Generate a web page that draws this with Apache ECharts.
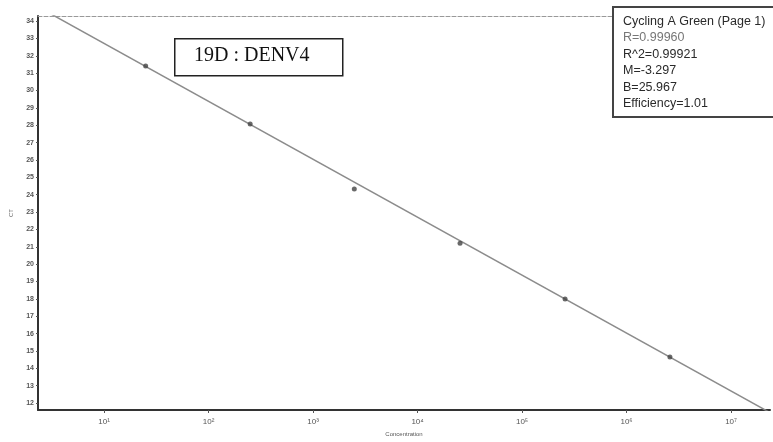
<!DOCTYPE html>
<html lang="en">
<head>
    <meta charset="UTF-8">
    <script src="https://cdn.jsdelivr.net/npm/echarts@6.0.0/dist/echarts.min.js"></script>
    <title>19D : DENV4</title>
    <style>
        html, body { margin: 0; padding: 0; background: #fff; }
    </style>
</head>
<body>
<div id="main" style="width: 773px;height:442px;"></div>
<script type="text/javascript">
    // standards (concentration, Ct)
    var conc = [25, 250, 2480, 25500, 258000, 2600000];
    var ct = [31.41, 28.07, 24.32, 21.21, 17.99, 14.65];

    // fitted line, ends at the plot edges
    var fitConc = [2.33, 23600000];
    var fitCt = [34.82, 11.45];

    var ctTicks = [12, 13, 14, 15, 16, 17, 18, 19, 20, 21, 22, 23, 24, 25, 26, 27, 28, 29, 30, 31, 32, 33, 34];
    var supers = ['⁰', '¹', '²', '³', '⁴', '⁵', '⁶', '⁷', '⁸'];

    var statLines = ['Cycling A Green (Page 1)', 'R=0.99960', 'R^2=0.99921', 'M=-3.297', 'B=25.967', 'Efficiency=1.01'];

    var pts = [], fit = [];
    for (var i = 0; i < conc.length; i++) pts.push([conc[i], ct[i]]);
    for (var j = 0; j < fitConc.length; j++) fit.push([fitConc[j], fitCt[j]]);

    var statTexts = [];
    for (var k = 0; k < statLines.length; k++) {
        statTexts.push({
            type: 'text',
            left: 623,
            top: 15 + k * 16.4,
            z: 101,
            style: {
                text: statLines[k],
                fill: k == 1 ? '#777' : '#2a2a2a',
                font: '12.5px "Liberation Sans", Arial, sans-serif'
            }
        });
    }

    var myChart = echarts.init(document.getElementById('main'));

    var option = {
        animation: false,
        backgroundColor: '#fff',
        grid: {
            left: 38,
            right: 3,
            top: 16,
            bottom: 32
        },
        xAxis: [
            {
                type: 'log',
                logBase: 10,
                min: 2.33,
                max: 23600000,
                splitNumber: 7,
                name: 'Concentration',
                nameLocation: 'middle',
                nameGap: 20,
                nameTextStyle: { fontSize: 6, color: '#555' },
                axisLine: { lineStyle: { color: '#333', width: 2 } },
                axisTick: { length: 3, lineStyle: { color: '#555' } },
                splitLine: { show: false },
                axisLabel: {
                    showMinLabel: false,
                    showMaxLabel: false,
                    fontSize: 8,
                    color: '#555',
                    margin: 8,
                    formatter: function (v) {
                        var e = Math.round(Math.log10(v));
                        return '10' + supers[e];
                    }
                }
            },
            {
                type: 'value',
                position: 'top',
                axisLine: { show: true, lineStyle: { color: '#999', type: 'dashed', width: 1 } },
                axisTick: { show: false },
                axisLabel: { show: false },
                splitLine: { show: false }
            }
        ],
        yAxis: {
            type: 'value',
            min: 11.6,
            max: 34.29,
            name: 'CT',
            nameLocation: 'middle',
            nameGap: 24,
            nameTextStyle: { fontSize: 6, color: '#666' },
            axisLine: { show: true, lineStyle: { color: '#333', width: 2 } },
            axisTick: { show: true, length: 2, customValues: ctTicks, lineStyle: { color: '#555' } },
            splitLine: { show: false },
            axisLabel: {
                customValues: ctTicks,
                fontSize: 7,
                fontWeight: 'bold',
                color: '#555',
                margin: 4
            }
        },
        graphic: [
            {
                type: 'rect',
                left: 174,
                top: 38,
                z: 100,
                shape: { width: 168, height: 37 },
                style: { fill: '#fff', stroke: '#222', lineWidth: 1.5 }
            },
            {
                type: 'text',
                left: 194,
                top: 46,
                z: 101,
                style: {
                    text: '19D : DENV4',
                    fill: '#111',
                    font: '20px "Liberation Serif", "Times New Roman", serif'
                }
            },
            {
                type: 'rect',
                left: 612,
                top: 6,
                z: 100,
                shape: { width: 170, height: 110 },
                style: { fill: '#fff', stroke: '#444', lineWidth: 2 }
            }
        ].concat(statTexts),
        series: [
            {
                name: 'fit',
                type: 'line',
                data: fit,
                symbol: 'none',
                lineStyle: { color: '#8c8c8c', width: 1.5 },
                z: 2
            },
            {
                name: 'standards',
                type: 'scatter',
                data: pts,
                symbolSize: 5,
                itemStyle: { color: '#444' },
                z: 3
            }
        ]
    };
    myChart.setOption(option);
</script>
</body>
</html>
